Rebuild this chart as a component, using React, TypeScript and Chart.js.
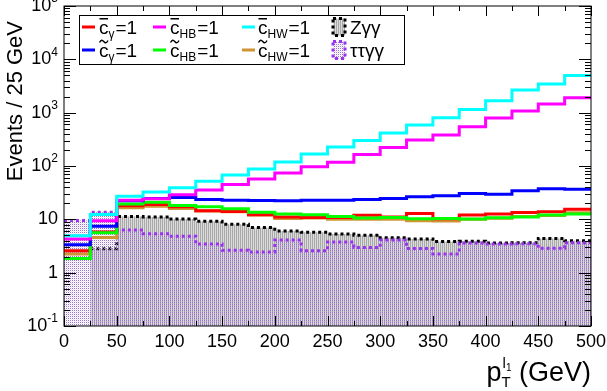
import React, { useEffect, useRef } from "react";
import { Chart, registerables } from "chart.js";

Chart.register(...registerables);

// ---------------- data ----------------
const binLowEdges = [0, 25, 50, 75, 100, 125, 150, 175, 200, 225, 250, 275, 300, 325, 350, 375, 400, 425, 450, 475];
const xUpper = 500;

const cBarGamma = [2.57, 5.8, 18, 19, 17.2, 14.5, 14, 12.2, 11.1, 10.8, 10.8, 11.9, 11.1, 12.8, 10.2, 12.0, 12.6, 13.5, 13.8, 15.4];
const cBarHB = [4.3, 9.4, 22.9, 24.4, 29, 35.3, 44.8, 56.8, 73.6, 96.7, 118, 164, 223, 306, 380, 545, 794, 1072, 1449, 1905];
const cBarHW = [4.9, 12.3, 27, 32.5, 39, 52, 68, 88, 119, 168, 227, 302, 415, 585, 802, 1150, 1670, 2650, 3440, 5000];
const cTildeGamma = [3.35, 7.4, 22.3, 24.7, 25.8, 23.6, 22.9, 22.6, 22.3, 22.9, 22.9, 23.6, 24.7, 26.4, 27.7, 30.6, 29.4, 34.5, 37.4, 36.7];
const cTildeHB = [1.84, 5.6, 19.3, 21, 18.2, 17.2, 15.8, 13.6, 12.6, 12.2, 11.3, 10.6, 10.8, 10.3, 10.4, 10.1, 10.7, 11.1, 12.0, 12.6];
const cTildeHW = [2.25, 4.55, 16.5, 17.5, 16, 14.3, 13.8, 12, 10.4, 10.6, 10.0, 10.0, 10.0, 9.4, 9.3, 10.0, 10.5, 11.3, 11.8, 13.3];
const zGammaGamma = [0, 2.8, 11.3, 11.1, 10.1, 9.2, 8.1, 7.0, 6.05, 5.7, 5.3, 5.05, 4.5, 4.3, 3.85, 3.9, 3.6, 3.65, 4.38, 3.95];
const tauTauGammaGamma = [9.5, 13.6, 6.3, 5.35, 4.84, 3.45, 2.64, 2.43, 4.1, 2.58, 3.75, 2.97, 4.1, 2.84, 2.25, 3.6, 3.45, 3.5, 2.86, 3.65];

const xMajorTicks = [0, 50, 100, 150, 200, 250, 300, 350, 400, 450, 500];
const xTickLabels = ["0", "50", "100", "150", "200", "250", "300", "350", "400", "450", "500"];
const yDecades = [0.1, 1, 10, 100, 1000, 10000, 100000];
const yTickBase = ["10", "1", "10", "10", "10", "10", "10"];
const yTickExp = ["-1", "", "", "2", "3", "4", "5"];

const yTitle = "Events / 25 GeV";
const xTitleMain = "p";
const xTitleSup = "l";
const xTitleSupSub = "1";
const xTitleSub = "T";
const xTitleUnit = " (GeV)";

const FONT = '"Liberation Sans", Arial, Helvetica, sans-serif';
const f = (s: number) => `${s}px ${FONT}`;

const COLORS = {
  red: "#ff0000",
  magenta: "#ff00ff",
  cyan: "#00ffff",
  blue: "#0000ff",
  green: "#00ff00",
  orange: "#cf9434",
  purple: "#9933ee",
};

function histPoints(values: number[]) {
  const pts = binLowEdges.map((x, i) => ({ x, y: values[i] }));
  pts.push({ x: xUpper, y: values[values.length - 1] });
  return pts;
}

function makePattern(ctx: CanvasRenderingContext2D, w: number, h: number, draw: (c: CanvasRenderingContext2D) => void) {
  const c = document.createElement("canvas");
  c.width = w;
  c.height = h;
  const p = c.getContext("2d")!;
  draw(p);
  return ctx.createPattern(c, "repeat")!;
}

type LegendItem =
  | { kind: "line"; color: string; accent: "bar" | "tilde"; sub: string }
  | { kind: "box"; fill: any; border: string; text: string };

function drawDecor(chart: any, grayFill: any, purpleFill: any) {
  const { ctx, chartArea: a, scales } = chart;
  const xs = scales.x;
  const ys = scales.y;
  ctx.save();
  ctx.fillStyle = "#000";
  ctx.strokeStyle = "#000";
  ctx.lineWidth = 1;

  // frame
  ctx.strokeRect(a.left, a.top, a.right - a.left, a.bottom - a.top);

  // x ticks
  ctx.beginPath();
  for (let v = 0; v <= 500; v += 25) {
    const px = Math.round(xs.getPixelForValue(v)) + 0.5;
    const len = v % 50 === 0 ? 10 : 5;
    ctx.moveTo(px, a.bottom);
    ctx.lineTo(px, a.bottom - len);
    ctx.moveTo(px, a.top);
    ctx.lineTo(px, a.top + len);
  }
  // y ticks
  for (let d = -1; d <= 5; d++) {
    for (let m = 1; m <= 9; m++) {
      if (d === 5 && m > 1) break;
      const v = m * Math.pow(10, d);
      const py = Math.round(ys.getPixelForValue(v)) + 0.5;
      const len = m === 1 ? 12 : 6;
      ctx.moveTo(a.left, py);
      ctx.lineTo(a.left + len, py);
      ctx.moveTo(a.right, py);
      ctx.lineTo(a.right - len, py);
    }
  }
  ctx.stroke();

  // x tick labels
  ctx.font = f(18);
  ctx.textAlign = "center";
  ctx.textBaseline = "top";
  xMajorTicks.forEach((v, i) => {
    ctx.fillText(xTickLabels[i], xs.getPixelForValue(v), a.bottom + 7);
  });

  // y tick labels
  const labelRight = a.left - 6;
  yDecades.forEach((v, i) => {
    const py = ys.getPixelForValue(v);
    ctx.textBaseline = "middle";
    ctx.textAlign = "left";
    ctx.font = f(12);
    const ew = yTickExp[i] ? ctx.measureText(yTickExp[i]).width : 0;
    ctx.font = f(18);
    const bw = ctx.measureText(yTickBase[i]).width;
    ctx.fillText(yTickBase[i], labelRight - ew - bw, py);
    if (yTickExp[i]) {
      ctx.font = f(12);
      ctx.fillText(yTickExp[i], labelRight - ew, py - 7);
    }
  });

  // y title
  ctx.save();
  ctx.translate(16, 21);
  ctx.rotate(-Math.PI / 2);
  ctx.font = f(22);
  ctx.textAlign = "right";
  ctx.textBaseline = "middle";
  ctx.fillText(yTitle, 0, 0);
  ctx.restore();

  // x title
  {
    const base = 381;
    ctx.textBaseline = "alphabetic";
    ctx.textAlign = "left";
    ctx.font = f(27);
    const uw = ctx.measureText(xTitleUnit).width;
    const pw = ctx.measureText(xTitleMain).width;
    ctx.font = f(15);
    const lw = ctx.measureText(xTitleSup).width;
    const tw = ctx.measureText(xTitleSub).width;
    ctx.font = f(10);
    const ow = ctx.measureText(xTitleSupSub).width;
    const scriptW = Math.max(lw + ow + 1, tw);
    const right = a.right;
    const xUnit = right - uw;
    const xScript = xUnit - scriptW;
    const xP = xScript - pw;
    ctx.font = f(27);
    ctx.fillText(xTitleMain, xP, base);
    ctx.fillText(xTitleUnit, xUnit, base);
    ctx.font = f(15);
    ctx.fillText(xTitleSup, xScript + 1, base - 13);
    ctx.fillText(xTitleSub, xScript, base + 6);
    ctx.font = f(10);
    ctx.fillText(xTitleSupSub, xScript + 1 + lw, base - 10);
  }

  // legend
  const lx0 = 79, ly0 = 15, lx1 = 404, ly1 = 64;
  ctx.fillStyle = "#fff";
  ctx.fillRect(lx0, ly0, lx1 - lx0, ly1 - ly0);
  ctx.strokeStyle = "#000";
  ctx.lineWidth = 1;
  ctx.strokeRect(lx0 + 0.5, ly0 + 0.5, lx1 - lx0, ly1 - ly0);

  const cols = [
    { icon: 82, text: 99 },
    { icon: 153, text: 170 },
    { icon: 242, text: 258 },
    { icon: 333, text: 350 },
  ];
  const rows = [{ mid: 27, base: 34 }, { mid: 50, base: 57 }];
  const items: LegendItem[][] = [
    [
      { kind: "line", color: COLORS.red, accent: "bar", sub: "γ" },
      { kind: "line", color: COLORS.magenta, accent: "bar", sub: "HB" },
      { kind: "line", color: COLORS.cyan, accent: "bar", sub: "HW" },
      { kind: "box", fill: grayFill, border: "#000", text: "Zγγ" },
    ],
    [
      { kind: "line", color: COLORS.blue, accent: "tilde", sub: "γ" },
      { kind: "line", color: COLORS.green, accent: "tilde", sub: "HB" },
      { kind: "line", color: COLORS.orange, accent: "tilde", sub: "HW" },
      { kind: "box", fill: purpleFill, border: COLORS.purple, text: "ττγγ" },
    ],
  ];
  items.forEach((row, r) => {
    row.forEach((it, c) => {
      const col = cols[c];
      const rw = rows[r];
      ctx.textAlign = "left";
      ctx.textBaseline = "alphabetic";
      if (it.kind === "line") {
        ctx.fillStyle = it.color;
        ctx.fillRect(col.icon, rw.mid - 1.5, 13, 3);
        ctx.fillStyle = "#000";
        ctx.font = f(19);
        const x = col.text;
        ctx.fillText("c", x, rw.base);
        const cw = ctx.measureText("c").width;
        if (it.accent === "bar") {
          ctx.fillRect(x + 0.5, rw.base - 16, cw - 1, 1.5);
        } else {
          // tilde accent
          const x0 = x + 0.5, x1 = x + cw - 0.5, yc = rw.base - 15.5;
          const w = x1 - x0;
          ctx.save();
          ctx.strokeStyle = "#000";
          ctx.lineWidth = 1.4;
          ctx.beginPath();
          ctx.moveTo(x0, yc + 1);
          ctx.bezierCurveTo(x0 + w * 0.2, yc - 2.2, x0 + w * 0.35, yc - 1.5, x0 + w * 0.5, yc);
          ctx.bezierCurveTo(x0 + w * 0.65, yc + 1.5, x0 + w * 0.8, yc + 2.2, x1, yc - 1);
          ctx.stroke();
          ctx.restore();
        }
        ctx.font = f(12);
        ctx.fillText(it.sub, x + cw, rw.base + 4);
        const sw = ctx.measureText(it.sub).width;
        ctx.font = f(19);
        ctx.fillText("=1", x + cw + sw + 1, rw.base);
      } else {
        const bx = col.icon, by = rw.mid - 8.5, bw = 12, bh = 17;
        ctx.fillStyle = it.fill;
        ctx.fillRect(bx, by, bw, bh);
        ctx.save();
        ctx.strokeStyle = it.border;
        ctx.lineWidth = 3;
        ctx.setLineDash([3, 3]);
        ctx.strokeRect(bx, by, bw, bh);
        ctx.restore();
        ctx.fillStyle = "#000";
        ctx.font = f(19);
        ctx.fillText(it.text, col.text, rw.base);
      }
    });
  });

  ctx.restore();
}

export default function App() {
  const ref = useRef<HTMLCanvasElement>(null);
  useEffect(() => {
    document.body.style.margin = "0";
    const canvas = ref.current!;
    const ctx = canvas.getContext("2d")!;
    const grayFill = makePattern(ctx, 2, 1, (p) => {
      p.fillStyle = "#a8a8a8";
      p.fillRect(0, 0, 1, 1);
      p.fillStyle = "#dcdcdc";
      p.fillRect(1, 0, 1, 1);
    });
    const purpleFill = makePattern(ctx, 2, 2, (p) => {
      p.fillStyle = "#9c70d0";
      p.fillRect(0, 0, 1, 1);
      p.fillStyle = "rgba(215,195,238,0.45)";
      p.fillRect(1, 1, 1, 1);
    });

    const lineDs = (label: string, values: number[], color: string, order: number) => ({
      label,
      data: histPoints(values),
      stepped: "before" as const,
      borderColor: color,
      borderWidth: 3,
      pointRadius: 0,
      fill: false,
      order,
    });

    const chart = new Chart(canvas, {
      type: "line",
      data: {
        datasets: [
          lineDs("c̄_HW=1", cBarHW, COLORS.cyan, 1),
          lineDs("c̄_HB=1", cBarHB, COLORS.magenta, 2),
          lineDs("c̃_γ=1", cTildeGamma, COLORS.blue, 3),
          lineDs("c̃_HB=1", cTildeHB, COLORS.green, 4),
          lineDs("c̄_γ=1", cBarGamma, COLORS.red, 5),
          lineDs("c̃_HW=1", cTildeHW, COLORS.orange, 6),
          {
            label: "ττγγ",
            data: histPoints(tauTauGammaGamma),
            stepped: "before" as const,
            borderColor: COLORS.purple,
            borderWidth: 3,
            borderDash: [3, 3],
            backgroundColor: purpleFill,
            pointRadius: 0,
            fill: "start",
            order: 10,
          },
          {
            label: "Zγγ",
            data: histPoints(zGammaGamma),
            stepped: "before" as const,
            borderColor: "#000",
            borderWidth: 3,
            borderDash: [3, 3],
            backgroundColor: grayFill,
            pointRadius: 0,
            fill: "start",
            order: 11,
          },
        ],
      },
      options: {
        animation: false,
        responsive: false,
        devicePixelRatio: 1,
        layout: { padding: { left: 64, right: 16, top: 6, bottom: 65 } },
        plugins: { legend: { display: false }, tooltip: { enabled: false } },
        scales: {
          x: { type: "linear", min: 0, max: 500, display: false },
          y: { type: "logarithmic", min: 0.1, max: 100000, display: false },
        },
      },
      plugins: [
        {
          id: "rootDecor",
          afterDraw: (c: any) => drawDecor(c, grayFill, purpleFill),
        },
      ],
    } as any);
    return () => chart.destroy();
  }, []);
  return (
    <div style={{ width: 607, height: 391 }}>
      <canvas ref={ref} width={607} height={391} style={{ display: "block" }} />
    </div>
  );
}
